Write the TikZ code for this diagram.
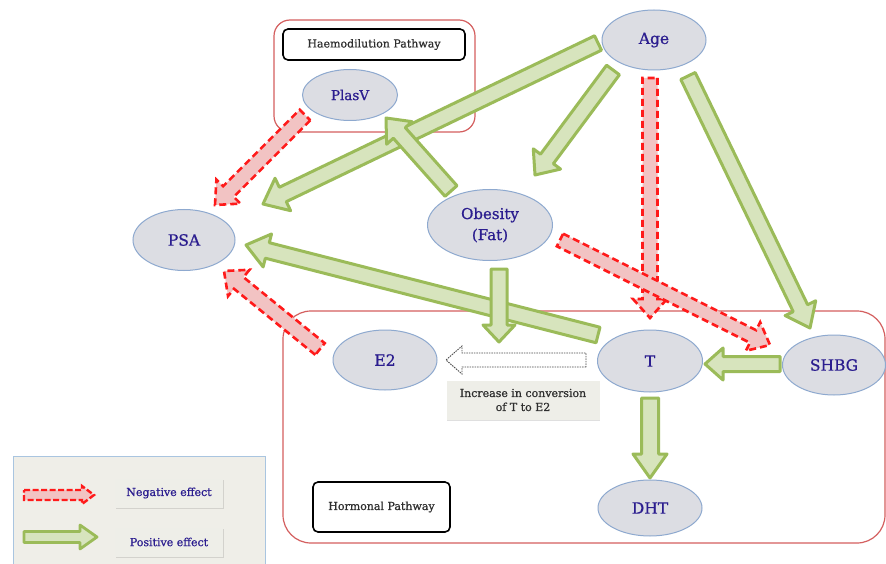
\documentclass[tikz,border=0pt]{standalone}
\usepackage{fontspec}
\setmainfont{DejaVu Serif}
\newfontfamily\semib{DejaVu Serif}[FakeBold=0.8]
\usetikzlibrary{calc,shadows,shapes.geometric}
\definecolor{ellfill}{HTML}{DCDDE3}
\definecolor{ellline}{HTML}{8EA9CF}
\definecolor{elltext}{HTML}{2B1D8F}
\definecolor{gfill}{HTML}{D7E4BD}
\definecolor{gline}{HTML}{9BBB59}
\definecolor{rfill}{HTML}{F2C3C3}
\definecolor{rline}{HTML}{FF1A1A}
\definecolor{boxred}{HTML}{D45F5F}
\definecolor{lblfill}{HTML}{EEEEE8}
\definecolor{legline}{HTML}{A9C5E0}
\definecolor{legfill}{HTML}{EFEEE8}
\definecolor{lbltext}{HTML}{2E2E2E}
% fat block arrow: #1 style, #2 from, #3 to, #4 half shaft, #5 half head, #6 head length
\newcommand\fatarrow[6]{%
  \coordinate (fac) at ($(#3)!#6!(#2)$);
  \draw[#1] ($(#2)!#4!90:(#3)$) -- ($(fac)!#4!-90:(#2)$) -- ($(fac)!#5!-90:(#2)$)
    -- (#3) -- ($(fac)!#5!90:(#2)$) -- ($(fac)!#4!90:(#2)$) -- ($(#2)!#4!-90:(#3)$) -- cycle;
}
\tikzset{
  ell/.style={ellipse, draw=ellline, fill=ellfill, line width=1pt, text=elltext,
    font=\semib\fontsize{15.5}{19}\selectfont, minimum width=104pt, minimum height=60pt,
    inner sep=0pt, align=center},
  posarr/.style={draw=gline, fill=gfill, line width=3pt, line join=round},
  negarr/.style={draw=rline, fill=rfill, line width=2.6pt, dash pattern=on 7pt off 4pt},
  convarr/.style={draw=gray!60!black, fill=white, line width=0.9pt, dash pattern=on 1.5pt off 1pt},
  regbox/.style={draw=boxred, line width=1.2pt},
  pathbox/.style={draw=black, fill=white, rounded corners=5pt, line width=1.6pt,
    text=lbltext, font=\semib\fontsize{11}{14}\selectfont, inner sep=0pt},
  lblbox/.style={fill=lblfill, inner sep=0pt, align=center,
    drop shadow={opacity=0.25, shadow xshift=0.6pt, shadow yshift=-1.6pt},
    font=\semib\fontsize{11}{14}\selectfont},
}
\begin{document}
\begin{tikzpicture}[x=1pt,y=-1pt]
\useasboundingbox (0,0) rectangle (886,564);
\clip (0,0) rectangle (886,564);
\fill[white] (0,0) rectangle (886,564);

% region boxes
\draw[regbox, rounded corners=16pt] (274,20) rectangle (475,132);
\draw[regbox, rounded corners=28pt] (283,311) rectangle (885,543);
\node[pathbox, minimum width=182pt, minimum height=31pt] (hpath) at (374,44.5) {Haemodilution Pathway};
\node[pathbox, minimum width=137pt, minimum height=50pt] (opath) at (381.5,507) {Hormonal Pathway};

% legend
\draw[draw=legline, fill=legfill, line width=1pt] (13,456) rectangle (265,580);
\node[lblbox, text=elltext, minimum width=108pt, minimum height=29pt] (negl) at (169,493) {Negative effect};
\node[lblbox, text=elltext, minimum width=108pt, minimum height=29pt] (posl) at (169,542) {Positive effect};
\coordinate (ln1) at (24,495);
\coordinate (ln2) at (94,495);
\coordinate (lp1) at (24,537);
\coordinate (lp2) at (97,537);
\fatarrow{negarr, line width=2.4pt, dash pattern=on 6pt off 2.5pt}{ln1}{ln2}{5pt}{9pt}{12pt}
\fatarrow{posarr, line width=2.8pt}{lp1}{lp2}{5.5pt}{12pt}{17pt}

% conversion label and arrow
\node[lblbox, text=lbltext, minimum width=153pt, minimum height=39pt] (conv) at (523,400)
  {Increase in conversion\\of T to E2};
\coordinate (cv1) at (586,360);
\coordinate (cv2) at (446,360);
\fatarrow{convarr}{cv1}{cv2}{7pt}{14pt}{16pt}

% arrow end points
\coordinate (g1a) at (598,43);  \coordinate (g1b) at (263,204);
\coordinate (g2a) at (613,70);  \coordinate (g2b) at (535,175);
\coordinate (g3a) at (688,76);  \coordinate (g3b) at (810,328);
\coordinate (g4a) at (451,191); \coordinate (g4b) at (386,118);
\coordinate (g5a) at (499,269); \coordinate (g5b) at (499,342);
\coordinate (g6a) at (598,335); \coordinate (g6b) at (246,245);
\coordinate (g7a) at (780,364); \coordinate (g7b) at (705,364);
\coordinate (g8a) at (650,398); \coordinate (g8b) at (650,478);
\coordinate (r1a) at (305,115); \coordinate (r1b) at (215,205);
\coordinate (r2a) at (320,349); \coordinate (r2b) at (224,271);
\coordinate (r3a) at (650,78);  \coordinate (r3b) at (650,318);
\coordinate (r4a) at (560,240); \coordinate (r4b) at (770,345);

% positive (green) arrows
\fatarrow{posarr}{g1a}{g1b}{8pt}{18pt}{22pt}
\fatarrow{posarr}{g4a}{g4b}{8pt}{17pt}{20pt}
\fatarrow{posarr}{g2a}{g2b}{8pt}{17pt}{20pt}
\fatarrow{posarr}{g3a}{g3b}{8pt}{17pt}{22pt}
\fatarrow{posarr}{g6a}{g6b}{8pt}{17pt}{22pt}
\fatarrow{posarr}{g5a}{g5b}{8pt}{16pt}{17pt}
\fatarrow{posarr}{g7a}{g7b}{7.5pt}{16pt}{18pt}
\fatarrow{posarr}{g8a}{g8b}{8.5pt}{17pt}{24pt}

% negative (red dashed) arrows
\fatarrow{negarr}{r1a}{r1b}{7.5pt}{17pt}{19pt}
\fatarrow{negarr}{r2a}{r2b}{7.5pt}{17pt}{19pt}
\fatarrow{negarr}{r3a}{r3b}{7.5pt}{17pt}{19pt}
\fatarrow{negarr}{r4a}{r4b}{7pt}{16pt}{19pt}

% ellipse nodes
\node[ell] (age) at (654,40) {Age};
\node[ell, minimum width=95pt, minimum height=51pt, font=\semib\fontsize{13.5}{16}\selectfont] (plasv) at (350,95) {PlasV};
\node[ell, minimum width=102pt, minimum height=61pt] (psa) at (184,240) {PSA};
\node[ell, minimum width=125pt, minimum height=71pt, font=\semib\fontsize{15}{21}\selectfont] (obesity) at (490,225) {Obesity\\(Fat)};
\node[ell] (e2) at (385,360) {E2};
\node[ell, minimum width=105pt, minimum height=62pt] (t) at (650,361) {T};
\node[ell, minimum width=103pt] (shbg) at (834,365) {SHBG};
\node[ell, minimum width=104pt, minimum height=56pt] (dht) at (650,508) {DHT};
\end{tikzpicture}
\end{document}
